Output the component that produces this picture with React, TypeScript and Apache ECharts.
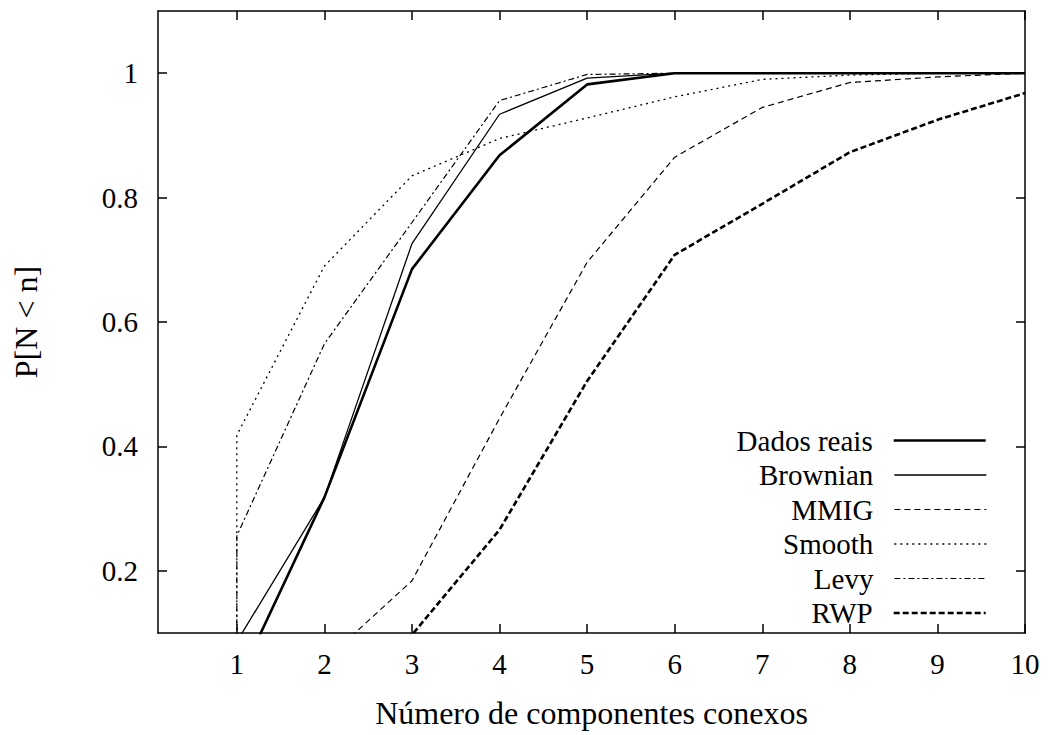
import React, { useEffect, useRef } from "react";
import * as echarts from "echarts";

const xValues = [1, 2, 3, 4, 5, 6, 7, 8, 9, 10];
const dadosReais = [0.018, 0.318, 0.685, 0.868, 0.982, 1, 1, 1, 1, 1];
const brownian = [0.086, 0.318, 0.726, 0.934, 0.992, 1, 1, 1, 1, 1];
const mmig = [0.0, 0.055, 0.184, 0.445, 0.696, 0.865, 0.945, 0.985, 0.994, 1];
const smooth = [0.418, 0.69, 0.835, 0.895, 0.928, 0.962, 0.99, 0.997, 1, 1];
const levy = [0.256, 0.565, 0.76, 0.956, 0.998, 1, 1, 1, 1, 1];
const rwp = [0, 0.03, 0.097, 0.266, 0.505, 0.708, 0.79, 0.873, 0.925, 0.968];
const xTicks = [1, 2, 3, 4, 5, 6, 7, 8, 9, 10];
const yTicks = [0.2, 0.4, 0.6, 0.8, 1];
const seriesNames = ["Dados reais", "Brownian", "MMIG", "Smooth", "Levy", "RWP"];

const FONT = "Liberation Serif";

export default function App() {
  const ref = useRef<HTMLDivElement>(null);
  useEffect(() => {
    document.body.style.margin = "0";
    const chart = echarts.init(ref.current!, null, { renderer: "svg" });
    const pairs = (vals: number[]) => xValues.map((x, i) => [x, vals[i]]);
    // Step-up at n=1 (values start from zero before n = 1)
    const withStart = (vals: number[]) => [[1, 0], ...pairs(vals)];

    const styles: any[] = [
      { width: 2.6, type: "solid" },
      { width: 1.3, type: "solid" },
      { width: 1.2, type: [6, 4] },
      { width: 1.3, type: [2, 4] },
      { width: 1.2, type: [6, 3, 2, 3] },
      { width: 2.6, type: [6, 3] },
    ];
    const datas = [
      pairs(dadosReais),
      pairs(brownian),
      pairs(mmig),
      withStart(smooth),
      withStart(levy),
      pairs(rwp),
    ];
    const series = seriesNames.map((name, i) => ({
      name,
      type: "line",
      data: datas[i],
      symbol: "none",
      clip: true,
      lineStyle: { color: "#000", ...styles[i] },
      itemStyle: { color: "#000" },
    }));

    const legendTop0 = 426;
    const legendStep = 34.5;
    const legends = seriesNames.map((name, i) => ({
      data: [name],
      right: 63,
      top: legendTop0 + i * legendStep,
      align: "right",
      orient: "horizontal",
      itemWidth: 92,
      itemHeight: 24,
      padding: 0,
      selectedMode: false,
      itemStyle: { opacity: 0 },
      lineStyle: { color: "#000", width: styles[i].width, type: styles[i].type },
      textStyle: {
        fontFamily: FONT,
        fontSize: 29,
        color: "#000",
        padding: [0, 16, 0, 0],
      },
    }));

    const axisLabelStyle = { fontFamily: FONT, fontSize: 29, color: "#000" };
    const lineStyle = { color: "#000", width: 1.5 };

    chart.setOption({
      animation: false,
      backgroundColor: "#fff",
      grid: { left: 158, right: 25, top: 11, bottom: 102, containLabel: false },
      legend: legends,
      xAxis: [
        {
          type: "value",
          min: 0.1,
          max: 10,
          position: "bottom",
          name: "Número de componentes conexos",
          nameLocation: "middle",
          nameGap: 64,
          nameTextStyle: { fontFamily: FONT, fontSize: 32, color: "#000" },
          axisLine: { show: true, lineStyle },
          axisTick: { show: true, inside: true, length: 9, customValues: xTicks, lineStyle },
          axisLabel: { ...axisLabelStyle, margin: 16, customValues: xTicks },
          splitLine: { show: false },
        },
        {
          type: "value",
          min: 0.1,
          max: 10,
          position: "top",
          axisLine: { show: true, lineStyle },
          axisTick: { show: true, inside: true, length: 9, customValues: xTicks, lineStyle },
          axisLabel: { show: false },
          splitLine: { show: false },
        },
      ],
      yAxis: [
        {
          type: "value",
          min: 0.1,
          max: 1.1,
          position: "left",
          name: "P[N < n]",
          nameLocation: "middle",
          nameGap: 116,
          nameRotate: 90,
          nameTextStyle: { fontFamily: FONT, fontSize: 32, color: "#000" },
          axisLine: { show: true, lineStyle },
          axisTick: { show: true, inside: true, length: 9, customValues: yTicks, lineStyle },
          axisLabel: { ...axisLabelStyle, margin: 20, customValues: yTicks },
          splitLine: { show: false },
        },
        {
          type: "value",
          min: 0.1,
          max: 1.1,
          position: "right",
          axisLine: { show: true, lineStyle },
          axisTick: { show: true, inside: true, length: 9, customValues: yTicks, lineStyle },
          axisLabel: { show: false },
          splitLine: { show: false },
        },
      ],
      series,
    });
    return () => chart.dispose();
  }, []);
  return <div ref={ref} style={{ width: 1050, height: 735 }} />;
}
